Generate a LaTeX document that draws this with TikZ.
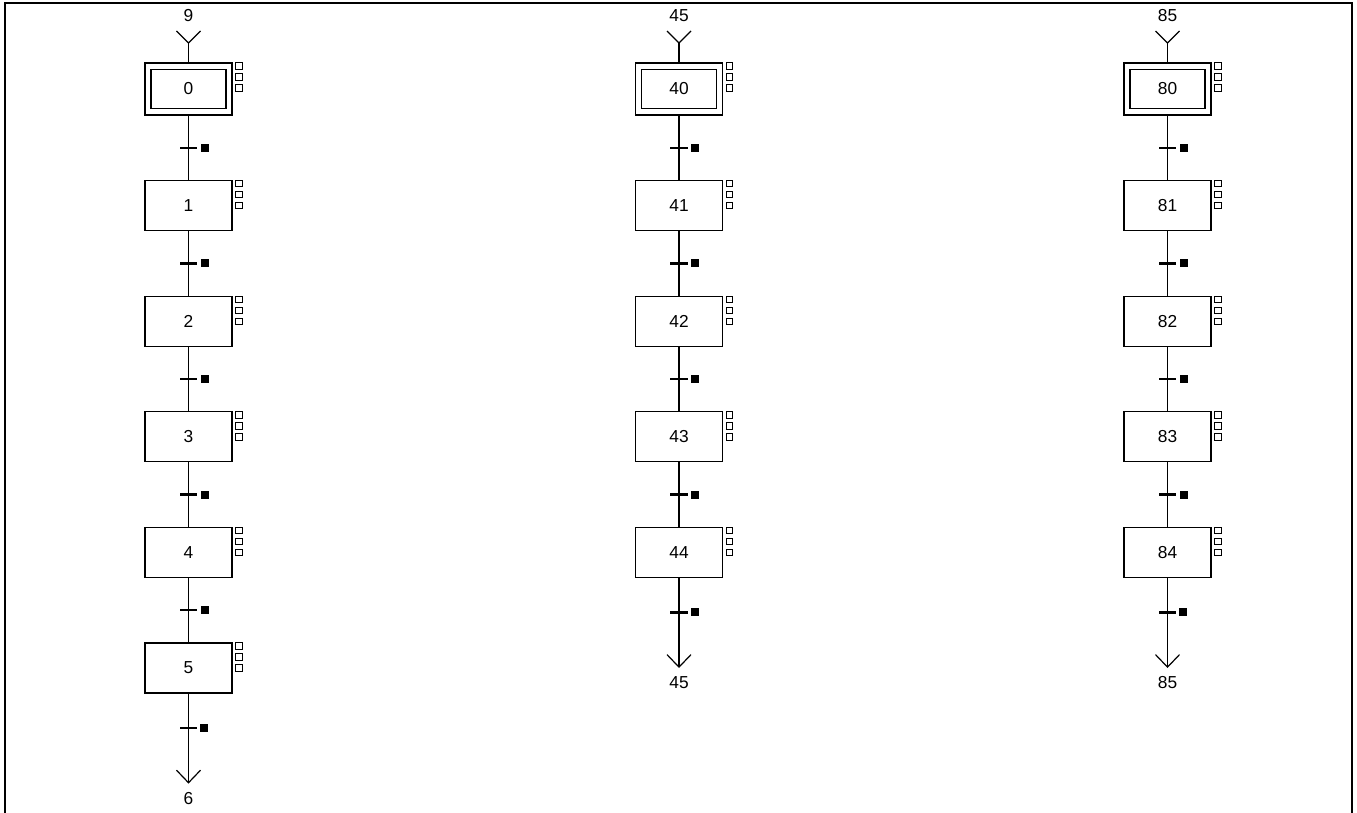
\documentclass[tikz,border=0pt]{standalone}
\usepackage{fontspec}
\setmainfont{Liberation Sans}
\usetikzlibrary{positioning,arrows.meta}

\begin{document}
\begin{tikzpicture}[
    x=0.75pt,y=-0.75pt,
    stepbox/.style={draw,line width=0.9pt,minimum width=65.25pt,minimum height=37.5pt,inner sep=0pt,font=\fontsize{13}{15}\selectfont},
    initstep/.style={stepbox,minimum height=39pt},
    initinner/.style={stepbox,line width=1.3pt,minimum width=56.25pt,minimum height=29.25pt},
    tag/.style={draw,line width=0.8pt,minimum size=4.8pt,inner sep=0pt},
    trbar/.style={fill=black,minimum width=13pt,minimum height=1.9pt,inner sep=0pt},
    trsq/.style={fill=black,minimum size=6pt,inner sep=0pt},
    link/.style={line width=0.9pt},
    goto/.style={link,-{Straight Barb[length=9.4pt,width=18pt]}},
    lbl/.style={font=\fontsize{13}{15}\selectfont,inner sep=0pt},
    node distance=48.3pt
]
\useasboundingbox (0,0) rectangle (1357,813);

% frame
\draw[line width=1.2pt] (5,813.6) rectangle (1352,3);

% first sequence
\node[lbl] (lin1) at (188.5,16) {9};
\coordinate (in1) at (188.5,43);
\node[initstep] (s0) at (188.5,89) {};
\node[initinner] (s0i) at (s0) {0};
\node[stepbox,below=of s0] (s1) {1};
\node[stepbox,below=of s1] (s2) {2};
\node[stepbox,below=of s2] (s3) {3};
\node[stepbox,below=of s3] (s4) {4};
\node[stepbox,below=of s4] (s5) {5};
\coordinate[below=67.5pt of s5] (e1);
\node[lbl,below=6.3pt of e1] (le1) {6};

% second sequence
\node[lbl] (lin2) at (679,16) {45};
\coordinate (in2) at (679,43);
\node[initstep] (s40) at (679,89) {};
\node[initinner] (s40i) at (s40) {40};
\node[stepbox,below=of s40] (s41) {41};
\node[stepbox,below=of s41] (s42) {42};
\node[stepbox,below=of s42] (s43) {43};
\node[stepbox,below=of s43] (s44) {44};
\coordinate[below=67.5pt of s44] (e2);
\node[lbl,below=6.3pt of e2] (le2) {45};

% third sequence
\node[lbl] (lin3) at (1167.5,16) {85};
\coordinate (in3) at (1167.5,43);
\node[initstep] (s80) at (1167.5,89) {};
\node[initinner] (s80i) at (s80) {80};
\node[stepbox,below=of s80] (s81) {81};
\node[stepbox,below=of s81] (s82) {82};
\node[stepbox,below=of s82] (s83) {83};
\node[stepbox,below=of s83] (s84) {84};
\coordinate[below=67.5pt of s84] (e3);
\node[lbl,below=6.3pt of e3] (le3) {85};

% entries
\foreach \i/\s in {in1/s0,in2/s40,in3/s80}{
  \draw[link] (\i) -- (\s);
  \draw[link] ([shift={(-12,-12)}]\i) -- (\i) -- ([shift={(12,-12)}]\i);
}

% links and transitions
\foreach \a/\b/\t in {s0/s1/t1,s1/s2/t2,s2/s3/t3,s3/s4/t4,s4/s5/t5,
    s40/s41/t41,s41/s42/t42,s42/s43/t43,s43/s44/t44,
    s80/s81/t81,s81/s82/t82,s82/s83/t83,s83/s84/t84}{
  \draw[link] (\a) -- (\b) node[trbar,midway] (\t) {};
  \node[trsq,right=2pt of \t] (\t-q) {};
}

% exits
\draw[goto] (s5) -- (e1);
\draw[goto] (s44) -- (e2);
\draw[goto] (s84) -- (e3);
\node[trbar,below=24.6pt of s5] (t6) {};
\node[trsq,right=2pt of t6] (t6-q) {};
\node[trbar,below=24.6pt of s44] (t45) {};
\node[trsq,right=2pt of t45] (t45-q) {};
\node[trbar,below=24.6pt of s84] (t85) {};
\node[trsq,right=2pt of t85] (t85-q) {};

% tags
\foreach \s in {s0,s1,s2,s3,s4,s5,s40,s41,s42,s43,s44,s80,s81,s82,s83,s84}{
  \foreach \k in {0,1,2}
    \node[tag] (\s-g\k) at ([xshift=4.9pt,yshift={-2.8pt-\k*8.25pt}]\s.north east) {};
}

\end{tikzpicture}
\end{document}
